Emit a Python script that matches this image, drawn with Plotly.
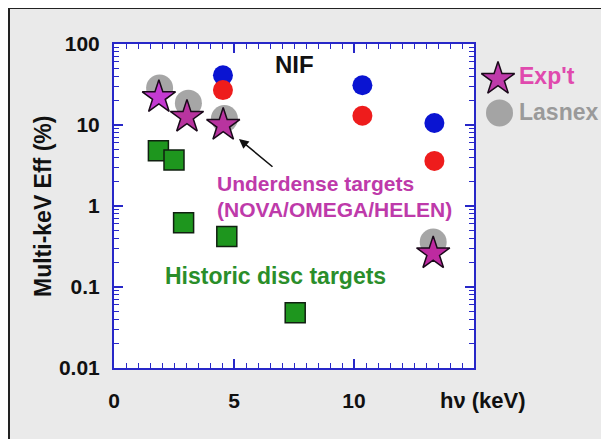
import plotly.graph_objects as go

# ---- data ----
nif_energy = [4.54, 10.35, 13.35]
nif_blue = [41, 31, 10.6]
nif_red = [27, 13, 3.6]

lasnex_energy = [1.9, 3.1, 4.6, 13.3]
lasnex_eff = [28.6, 18.6, 12, 0.36]

expt_energy = [1.87, 3.04, 4.55, 13.3]
expt_eff = [22, 12.6, 10, 0.26]
expt_colors = ["#C43AD2", "#B8349F", "#B8349F", "#BE2AA0"]

disc_energy = [1.85, 2.5, 2.9, 4.7, 7.55]
disc_eff = [4.8, 3.7, 0.62, 0.42, 0.048]

y_tickvals = [0.01, 0.1, 1, 10, 100]
y_ticktext = ["0.01", "0.1", "1", "10", "100"]
x_tickvals = [0, 5, 10]
x_ticktext = ["0", "5", "10"]

FONT = "Liberation Sans, Arial, sans-serif"
MAG = "#BE3AAA"
GREEN = "#2A8E2A"
AXIS_BLUE = "#2828C8"

# minor tick positions (axis decoration)
y_minor = [k * 10.0 ** e for e in range(-2, 2) for k in range(2, 10)]
x_minor = [i * 0.5 for i in range(0, 31)]

# page geometry (the page body has an 8px margin)
OFF = 8
W, H = 609 - OFF, 439 - OFF
L, T = 114 - OFF, 44 - OFF
B = H - (368 - OFF)
R = 0
PW, PH = W - L - R, H - T - B


def px(x, y):
    """page pixel -> paper fraction"""
    return (x - OFF - L) / PW, 1 - (y - OFF - T) / PH


main_right = px(474, 0)[0]

fig = go.Figure()

star_line = dict(color="#1A0A1A", width=1.5)
gray_marker = dict(symbol="circle", size=27, color="#9C9C9C", opacity=0.9)

fig.add_trace(go.Scatter(x=lasnex_energy, y=lasnex_eff, mode="markers",
                         marker=gray_marker, showlegend=False))
fig.add_trace(go.Scatter(x=nif_energy, y=nif_blue, mode="markers",
                         marker=dict(symbol="circle", size=20, color="#0A14D2"),
                         showlegend=False))
fig.add_trace(go.Scatter(x=nif_energy, y=nif_red, mode="markers",
                         marker=dict(symbol="circle", size=20, color="#EE1C1C"),
                         showlegend=False))
fig.add_trace(go.Scatter(x=expt_energy, y=expt_eff, mode="markers",
                         marker=dict(symbol="star", size=25, color=expt_colors, line=star_line),
                         showlegend=False))
fig.add_trace(go.Scatter(x=disc_energy, y=disc_eff, mode="markers",
                         marker=dict(symbol="square", size=20, color="#1E961E",
                                     line=dict(color="#102010", width=1.5)),
                         showlegend=False))

# legend keys on a hidden helper axis to the right of the plot
fig.add_trace(go.Scatter(x=[0.5], y=[37], xaxis="x2", yaxis="y", mode="markers",
                         marker=dict(symbol="star", size=25, color=MAG, line=star_line),
                         showlegend=False, cliponaxis=False))
fig.add_trace(go.Scatter(x=[0.55], y=[14.1], xaxis="x2", yaxis="y", mode="markers",
                         marker=gray_marker, showlegend=False, cliponaxis=False))

tickfont = dict(family=FONT, size=21, color="#111111", weight="bold")

fig.update_layout(
    width=W, height=H,
    margin=dict(l=L, r=R, t=T, b=B, autoexpand=False),
    paper_bgcolor="#EAEAEA",
    plot_bgcolor="rgba(0,0,0,0)",
    font=dict(family=FONT, color="#111111"),
    xaxis=dict(domain=[0, main_right], range=[0, 15],
               tickmode="array", tickvals=x_tickvals, ticktext=x_ticktext,
               ticks="inside", ticklen=9, tickwidth=1.5, tickcolor=AXIS_BLUE,
               showline=True, linecolor=AXIS_BLUE, linewidth=2, mirror="ticks",
               showgrid=False, zeroline=False, tickfont=tickfont, ticklabelstandoff=13,
               minor=dict(tickmode="array", tickvals=x_minor, ticks="inside", ticklen=5,
                          tickwidth=1.2, tickcolor=AXIS_BLUE, showgrid=False)),
    yaxis=dict(type="log", range=[-2, 2],
               tickmode="array", tickvals=y_tickvals, ticktext=y_ticktext,
               ticks="inside", ticklen=9, tickwidth=1.5, tickcolor=AXIS_BLUE,
               showline=True, linecolor=AXIS_BLUE, linewidth=2, mirror="ticks",
               showgrid=False, zeroline=False, tickfont=tickfont, ticklabelstandoff=8,
               minor=dict(tickmode="array", tickvals=y_minor, ticks="inside", ticklen=5,
                          tickwidth=1.2, tickcolor=AXIS_BLUE, showgrid=False)),
    xaxis2=dict(domain=[px(483, 0)[0], px(513, 0)[0]], range=[0, 1], anchor="y",
                visible=False, fixedrange=True),
)

# white plotting area of the main axes
fig.add_shape(type="rect", xref="x domain", yref="y domain", x0=0, x1=1, y0=0, y1=1,
              fillcolor="#FFFFFF", line=dict(width=0), layer="below")


def add_text(x, y, text, size, color, anchor="center", angle=0):
    fx, fy = px(x, y)
    fig.add_annotation(xref="paper", yref="paper", x=fx, y=fy, text=text, xanchor=anchor,
                       yanchor="middle", showarrow=False, textangle=angle,
                       font=dict(family=FONT, size=size, color=color, weight="bold"))


add_text(43, 207, "Multi-keV Eff (%)", 23, "#111111", angle=-90)
add_text(438, 400, "hν (keV)", 22, "#111111", "left")
add_text(294, 65, "NIF", 24, "#111111")
add_text(215, 183, "Underdense targets", 21, MAG, "left")
add_text(215, 209, "(NOVA/OMEGA/HELEN)", 21, MAG, "left")
add_text(163, 276, "Historic disc targets", 23, GREEN, "left")
add_text(517, 76, "Exp't", 23, "#E04AAE", "left")
add_text(517, 112, "Lasnex", 23, "#9A9A9A", "left")

hx, hy = px(239, 139)
fig.add_annotation(xref="paper", yref="paper", x=hx, y=hy, ax=35, ay=29,
                   text="", showarrow=True,
                   arrowhead=2, arrowsize=1.2, arrowwidth=1.6, arrowcolor="#111111")

# frame around the slide
x0f, y1f = px(9, 8)
x1f, y0f = px(640, 460)
fig.add_shape(type="rect", xref="paper", yref="paper", x0=x0f, x1=x1f, y0=y0f, y1=y1f,
              line=dict(color="#222222", width=2), fillcolor="rgba(0,0,0,0)", layer="below")

fig.write_html("out.html")
